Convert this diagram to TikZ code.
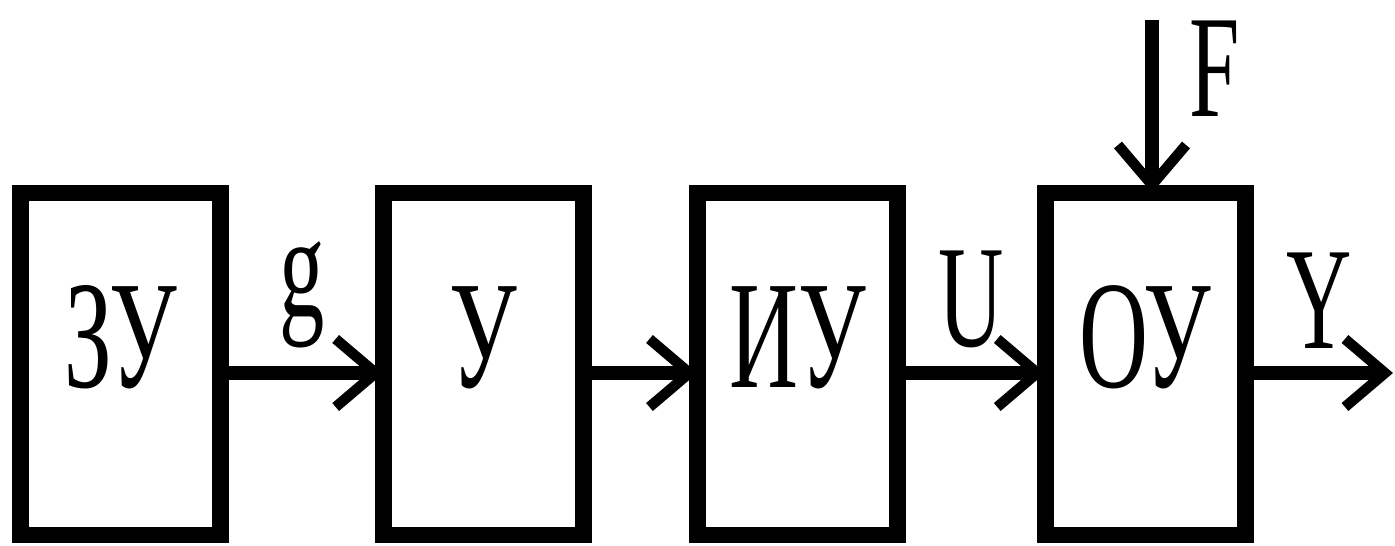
\documentclass[tikz,border=0pt]{standalone}
\usepackage{fontspec}
\setmainfont[FakeStretch=0.62]{Liberation Serif}
\usetikzlibrary{arrows.meta}

\begin{document}
\begin{tikzpicture}[x=0.25pt,y=-0.25pt,
  every matrix/.style={ampersand replacement=\&,column sep=0pt,inner sep=0pt,outer sep=0pt},
  block/.style={draw,line width=4.2pt,inner sep=0pt,minimum width=50pt,
    text height=48.5pt,text depth=37pt,font=\fontsize{38.5}{40}\selectfont},
  to/.style={-{Straight Barb[length=10pt,width=17pt,line width=2.6pt]},line width=3.3pt},
  sig/.style={inner sep=4.5pt,font=\fontsize{36.5}{38}\selectfont}]

  \useasboundingbox (0,0) rectangle (1395,546);

  % Put the four blocks in one row
  \matrix (chain) [matrix anchor=west] at (12.5,364) {
    \node[block] (ZU) {ЗУ};
      \&[36.5pt] \node[block] (UU) {У};
      \&[24.25pt] \node[block] (IU) {ИУ};
      \&[32.75pt] \node[block] (OU) {ОУ}; \\
  };

  % Free ends of the output and of the disturbance
  \coordinate (out) at (1393,373);
  \coordinate (dist) at (1152,20);

  % Signals between the blocks
  \draw[to] (ZU.east |- out) -- node[sig,midway,above] (g) {g} (UU.west |- out);
  \draw[to] (UU.east |- out) -- (IU.west |- out);
  \draw[to] (IU.east |- out) -- node[sig,midway,above] (U) {U} (OU.west |- out);
  \draw[to] (OU.east |- out) -- node[sig,midway,above] (Y) {Y} (out);
  \draw[to] (dist) -- (dist |- OU.north);
  \node[sig,inner sep=0pt,anchor=base west] (F) at (1189,116) {F};
\end{tikzpicture}
\end{document}
